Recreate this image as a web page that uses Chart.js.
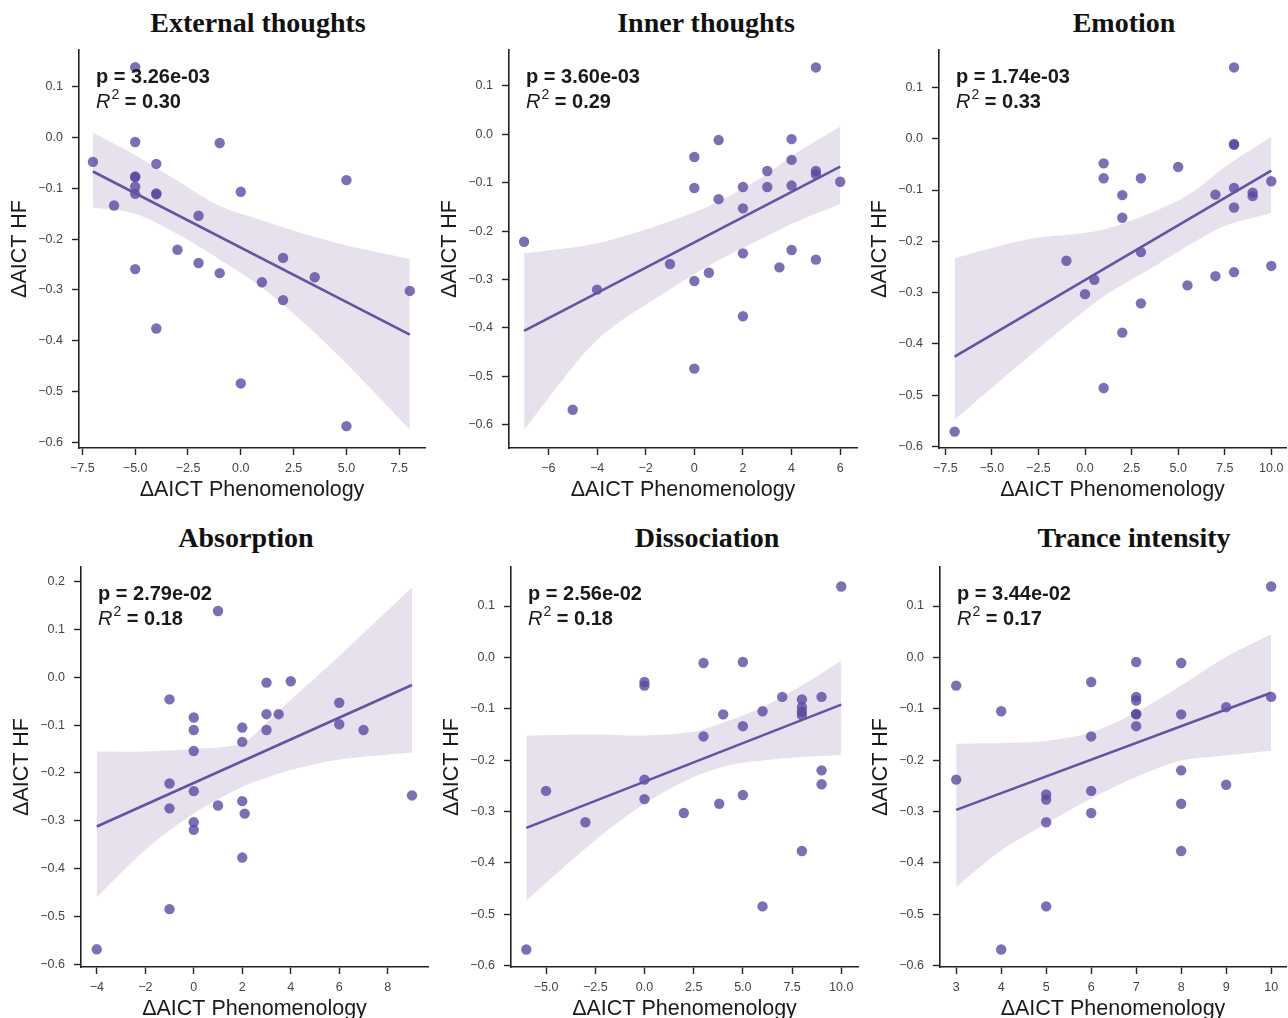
<!DOCTYPE html>
<html>
<head>
<meta charset="utf-8">
<script src="https://cdn.jsdelivr.net/npm/chart.js@4.4.1/dist/chart.umd.min.js"></script>
<style>
    html, body { margin: 0; padding: 0; background: #fff; overflow: hidden; }
    #lienzo { position: relative; width: 1288px; height: 1018px; overflow: hidden; }
    .panel { position: absolute; }
    .titulo {
        position: absolute; transform: translateX(-50%); white-space: nowrap;
        font-family: "Liberation Serif", "Times New Roman", serif; font-weight: bold;
        font-size: 28px; line-height: 28px; color: #111;
    }
</style>
</head>
<body>
<div id="lienzo"></div>
<script>
// ====================================
// Datos
// ====================================
const titulos = ['External thoughts', 'Inner thoughts', 'Emotion', 'Absorption', 'Dissociation', 'Trance intensity'];
const valoresP = ['3.26e-03', '3.60e-03', '1.74e-03', '2.79e-02', '2.56e-02', '3.44e-02'];
const valoresR2 = ['0.30', '0.29', '0.33', '0.18', '0.18', '0.17'];

//External thoughts
const externoX = [-7, -5, -5, -5, -5, -5, -5, -6, -4, -4, -4, -5, -4, -3, -2, -2, -1, -1, 0, 0, 1, 2, 2, 3.5, 5, 5, 8];
const externoY = [-0.048, 0.138, -0.009, -0.077, -0.078, -0.097, -0.111, -0.134, -0.052, -0.110, -0.112, -0.259, -0.376, -0.221, -0.154, -0.247, -0.011, -0.267, -0.107, -0.484, -0.285, -0.237, -0.320, -0.275, -0.084, -0.568, -0.302];
const externoLineaX = [-7, 8];
const externoLineaY = [-0.067, -0.388];
const externoBandaX = [-7, -5, -3, -1, 1, 3, 5, 8];
const externoBandaSup = [0.009, -0.035, -0.085, -0.135, -0.163, -0.190, -0.212, -0.239];
const externoBandaInf = [-0.138, -0.150, -0.190, -0.240, -0.295, -0.365, -0.445, -0.575];

//Inner thoughts
const internoX = [-7, -5, -4, -1, 0, 0, 0, 0, 0.6, 1, 1, 2, 2, 2, 2, 3, 3, 3.5, 4, 4, 4, 4, 5, 5, 5, 5, 6];
const internoY = [-0.222, -0.569, -0.321, -0.268, -0.047, -0.111, -0.303, -0.484, -0.286, -0.012, -0.134, -0.109, -0.153, -0.246, -0.376, -0.076, -0.109, -0.275, -0.010, -0.053, -0.106, -0.239, 0.138, -0.076, -0.083, -0.259, -0.098];
const internoLineaX = [-7, 6];
const internoLineaY = [-0.406, -0.067];
const internoBandaX = [-7, -4, -1, 1, 3, 4, 6];
const internoBandaSup = [-0.246, -0.225, -0.180, -0.139, -0.082, -0.045, 0.016];
const internoBandaInf = [-0.610, -0.425, -0.320, -0.260, -0.210, -0.185, -0.144];

//Emotion
const emocionX = [-7, -1, 0, 0.5, 1, 1, 1, 2, 2, 2, 3, 3, 3, 5, 5.5, 7, 7, 8, 8, 8, 8, 8, 8, 9, 9, 10, 10];
const emocionY = [-0.571, -0.238, -0.303, -0.275, -0.048, -0.077, -0.486, -0.110, -0.154, -0.378, -0.077, -0.221, -0.321, -0.055, -0.286, -0.109, -0.268, 0.139, -0.010, -0.012, -0.096, -0.134, -0.260, -0.105, -0.112, -0.083, -0.248];
const emocionLineaX = [-7, 10];
const emocionLineaY = [-0.425, -0.062];
const emocionBandaX = [-7, -3.2, 0.9, 3.9, 5.7, 7.5, 10];
const emocionBandaSup = [-0.233, -0.197, -0.178, -0.139, -0.106, -0.055, 0.004];
const emocionBandaInf = [-0.548, -0.430, -0.310, -0.245, -0.205, -0.170, -0.145];

//Absorption
const absorcionX = [-4, -1, -1, -1, -1, 0, 0, 0, 0, 0, 0, 1, 1, 2, 2, 2, 2.1, 2, 3, 3, 3, 3.5, 4, 6, 6, 7, 9];
const absorcionY = [-0.569, -0.046, -0.222, -0.274, -0.485, -0.084, -0.110, -0.154, -0.238, -0.303, -0.319, 0.139, -0.268, -0.105, -0.135, -0.259, -0.285, -0.377, -0.011, -0.077, -0.110, -0.077, -0.008, -0.053, -0.098, -0.110, -0.247];
const absorcionLineaX = [-4, 9];
const absorcionLineaY = [-0.312, -0.016];
const absorcionBandaX = [-4, -2, 0, 2, 3, 4, 6, 9];
const absorcionBandaSup = [-0.155, -0.155, -0.150, -0.138, -0.095, -0.047, 0.045, 0.188];
const absorcionBandaInf = [-0.460, -0.361, -0.285, -0.229, -0.210, -0.194, -0.172, -0.157];

//Dissociation
const disociacionX = [-6, -5, -3, 0, 0, 0, 0, 2, 3, 3, 3.8, 4, 5, 5, 5, 6, 6, 7, 8, 8, 8, 8, 8, 9, 9, 9, 10];
const disociacionY = [-0.569, -0.260, -0.321, -0.048, -0.055, -0.238, -0.276, -0.303, -0.011, -0.154, -0.285, -0.111, -0.009, -0.134, -0.268, -0.105, -0.485, -0.077, -0.082, -0.097, -0.106, -0.113, -0.377, -0.077, -0.220, -0.247, 0.138];
const disociacionLineaX = [-6, 10];
const disociacionLineaY = [-0.332, -0.092];
const disociacionBandaX = [-6, -2.5, 0, 2.5, 4.3, 6, 8, 10];
const disociacionBandaSup = [-0.152, -0.150, -0.152, -0.145, -0.123, -0.097, -0.055, -0.006];
const disociacionBandaInf = [-0.473, -0.356, -0.285, -0.233, -0.210, -0.201, -0.194, -0.190];

//Trance intensity
const tranceX = [3, 3, 4, 4, 5, 5, 5, 5, 6, 6, 6, 6, 7, 7, 7, 7, 7, 7, 8, 8, 8, 8, 8, 9, 9, 10, 10];
const tranceY = [-0.055, -0.238, -0.105, -0.569, -0.267, -0.277, -0.321, -0.485, -0.048, -0.154, -0.260, -0.303, -0.009, -0.077, -0.084, -0.110, -0.111, -0.134, -0.011, -0.111, -0.220, -0.285, -0.377, -0.097, -0.248, 0.138, -0.077];
const tranceLineaX = [3, 10];
const tranceLineaY = [-0.297, -0.069];
const tranceBandaX = [3, 4, 5, 6, 7, 8, 9, 10];
const tranceBandaSup = [-0.168, -0.167, -0.163, -0.146, -0.107, -0.055, 0.001, 0.045];
const tranceBandaInf = [-0.447, -0.376, -0.324, -0.275, -0.233, -0.201, -0.191, -0.182];

//ticks de los ejes
const ticksX1 = [-7.5, -5, -2.5, 0, 2.5, 5, 7.5];
const ticksX2 = [-6, -4, -2, 0, 2, 4, 6];
const ticksX3 = [-7.5, -5, -2.5, 0, 2.5, 5, 7.5, 10];
const ticksX4 = [-4, -2, 0, 2, 4, 6, 8];
const ticksX5 = [-5, -2.5, 0, 2.5, 5, 7.5, 10];
const ticksX6 = [3, 4, 5, 6, 7, 8, 9, 10];
const ticksY = [0.1, 0, -0.1, -0.2, -0.3, -0.4, -0.5, -0.6];
const ticksY4 = [0.2, 0.1, 0, -0.1, -0.2, -0.3, -0.4, -0.5, -0.6];

// ====================================
// Paneles (datos + rango de ejes)
// ====================================
const paneles = [
    { x: externoX, y: externoY, lx: externoLineaX, ly: externoLineaY, bx: externoBandaX, bs: externoBandaSup, bi: externoBandaInf,
      tx: ticksX1, dec: 1, ty: ticksY, xr: [-7.66, 8.72], yr: [-0.611, 0.172] },
    { x: internoX, y: internoY, lx: internoLineaX, ly: internoLineaY, bx: internoBandaX, bs: internoBandaSup, bi: internoBandaInf,
      tx: ticksX2, dec: 0, ty: ticksY, xr: [-7.62, 6.69], yr: [-0.648, 0.174] },
    { x: emocionX, y: emocionY, lx: emocionLineaX, ly: emocionLineaY, bx: emocionBandaX, bs: emocionBandaSup, bi: emocionBandaInf,
      tx: ticksX3, dec: 1, ty: ticksY, xr: [-7.84, 10.79], yr: [-0.603, 0.173] },
    { x: absorcionX, y: absorcionY, lx: absorcionLineaX, ly: absorcionLineaY, bx: absorcionBandaX, bs: absorcionBandaSup, bi: absorcionBandaInf,
      tx: ticksX4, dec: 0, ty: ticksY4, xr: [-4.65, 9.66], yr: [-0.606, 0.231] },
    { x: disociacionX, y: disociacionY, lx: disociacionLineaX, ly: disociacionLineaY, bx: disociacionBandaX, bs: disociacionBandaSup, bi: disociacionBandaInf,
      tx: ticksX5, dec: 1, ty: ticksY, xr: [-6.78, 10.85], yr: [-0.603, 0.176] },
    { x: tranceX, y: tranceY, lx: tranceLineaX, ly: tranceLineaY, bx: tranceBandaX, bs: tranceBandaSup, bi: tranceBandaInf,
      tx: ticksX6, dec: 0, ty: ticksY, xr: [2.64, 10.33], yr: [-0.603, 0.176] }
];

//posicion del area de grafico de cada panel (px) y de los titulos
const cajas = [
    { l: 79, r: 425, t: 50, b: 448 }, { l: 509, r: 857, t: 50, b: 448 }, { l: 939, r: 1286, t: 50, b: 448 },
    { l: 81, r: 428, t: 567, b: 967 }, { l: 511, r: 858, t: 567, b: 967 }, { l: 940, r: 1286, t: 567, b: 967 }
];
const posTitulos = [[258, 9], [706, 9], [1124, 9], [246, 524], [707, 524], [1134, 524]];

//el padding superior tiene que ser mayor que el que pide la etiqueta del tick (medio alto + padding)
const EJE_Y = 80, EJE_X = 60, PAD_SUP = 18, PAD_DER = 22;
const COLOR_PUNTO = 'rgba(90, 70, 160, 0.78)';
const COLOR_LINEA = '#6453a3';
const COLOR_BANDA = 'rgba(110, 80, 150, 0.17)';
const COLOR_EJE = '#222';
const FUENTE = '"Liberation Sans", Arial, Helvetica, sans-serif';

//une dos arrays en puntos {x, y}
function unir(xs, ys) {
    return xs.map((v, i) => ({ x: v, y: ys[i] }));
}

//formato de ticks con signo menos tipografico
function formato(v, dec) {
    return (v < 0 ? '\u2212' : '') + Math.abs(v).toFixed(dec);
}

//plugin para el texto p y R^2
const anotacion = {
    id: 'anotacion',
    afterDatasetsDraw(chart, args, opts) {
        const { ctx, chartArea } = chart;
        const x = chartArea.left + 17;
        const y1 = chartArea.top + 27;
        const y2 = chartArea.top + 52;
        ctx.save();
        ctx.fillStyle = '#1a1a1a';
        ctx.textBaseline = 'middle';
        ctx.textAlign = 'left';
        ctx.font = 'bold 20px ' + FUENTE;
        ctx.fillText('p = ' + opts.p, x, y1);
        ctx.font = 'italic 20px ' + FUENTE;
        ctx.fillText('R', x, y2);
        const wR = ctx.measureText('R').width;
        ctx.font = '14px ' + FUENTE;
        ctx.fillText('2', x + wR + 1, y2 - 7);
        const w2 = ctx.measureText('2').width;
        ctx.font = 'bold 20px ' + FUENTE;
        ctx.fillText(' = ' + opts.r2, x + wR + 1 + w2, y2);
        ctx.restore();
    }
};

//funcion para crear cada panel
function crearPanel(p, i) {
    const c = cajas[i];
    const ancho = c.r - c.l + EJE_Y + PAD_DER;
    const alto = c.b - c.t + PAD_SUP + EJE_X;

    const div = document.createElement('div');
    div.className = 'panel';
    div.style.left = (c.l - EJE_Y) + 'px';
    div.style.top = (c.t - PAD_SUP) + 'px';
    const canvas = document.createElement('canvas');
    canvas.width = ancho;
    canvas.height = alto;
    canvas.style.width = ancho + 'px';
    canvas.style.height = alto + 'px';
    div.appendChild(canvas);
    document.getElementById('lienzo').appendChild(div);

    const fuenteTick = { family: FUENTE, size: 12.5 };
    const fuenteTitulo = { family: FUENTE, size: 21.5 };

    new Chart(canvas, {
        type: 'scatter',
        data: {
            datasets: [
                { type: 'line', data: unir(p.lx, p.ly), borderColor: COLOR_LINEA, borderWidth: 2.6, pointRadius: 0, fill: false },
                { type: 'scatter', data: unir(p.x, p.y), backgroundColor: COLOR_PUNTO, borderWidth: 0, pointRadius: 5.2 },
                { type: 'line', data: unir(p.bx, p.bi), borderColor: 'rgba(0,0,0,0)', borderWidth: 0, pointRadius: 0, fill: false, tension: 0.3 },
                { type: 'line', data: unir(p.bx, p.bs), borderColor: 'rgba(0,0,0,0)', borderWidth: 0, pointRadius: 0, fill: '-1', backgroundColor: COLOR_BANDA, tension: 0.3 }
            ]
        },
        options: {
            responsive: false,
            animation: false,
            events: [],
            layout: { padding: { top: PAD_SUP, right: PAD_DER, left: 0, bottom: 0 } },
            plugins: {
                legend: { display: false },
                tooltip: { enabled: false },
                anotacion: { p: valoresP[i], r2: valoresR2[i] }
            },
            scales: {
                x: {
                    type: 'linear',
                    min: p.xr[0],
                    max: p.xr[1],
                    afterFit: s => { s.height = EJE_X; },
                    afterBuildTicks: s => { s.ticks = p.tx.map(v => ({ value: v })); },
                    border: { display: true, color: COLOR_EJE, width: 1.6 },
                    grid: { display: true, drawOnChartArea: false, drawTicks: true, tickLength: 7, tickColor: COLOR_EJE, tickWidth: 1.4 },
                    ticks: { autoSkip: false, maxRotation: 0, padding: 6, color: '#444', font: fuenteTick, callback: v => formato(v, p.dec) },
                    title: { display: true, text: '\u0394AICT Phenomenology', color: '#1a1a1a', font: fuenteTitulo, padding: { top: 10, bottom: 5 } }
                },
                y: {
                    type: 'linear',
                    min: p.yr[0],
                    max: p.yr[1],
                    afterFit: s => { s.width = EJE_Y; },
                    afterBuildTicks: s => { s.ticks = p.ty.map(v => ({ value: v })); },
                    border: { display: true, color: COLOR_EJE, width: 1.6 },
                    grid: { display: true, drawOnChartArea: false, drawTicks: true, tickLength: 7, tickColor: COLOR_EJE, tickWidth: 1.4 },
                    ticks: { autoSkip: false, padding: 9, color: '#444', font: fuenteTick, callback: v => formato(v, 1) },
                    title: { display: true, text: '\u0394AICT HF', color: '#1a1a1a', font: fuenteTitulo, padding: { top: 8, bottom: 5 } }
                }
            }
        },
        plugins: [anotacion]
    });
}

//titulos de cada panel
titulos.forEach((t, i) => {
    const d = document.createElement('div');
    d.className = 'titulo';
    d.textContent = t;
    d.style.left = posTitulos[i][0] + 'px';
    d.style.top = posTitulos[i][1] + 'px';
    document.getElementById('lienzo').appendChild(d);
});

paneles.forEach((p, i) => crearPanel(p, i));
</script>
</body>
</html>
